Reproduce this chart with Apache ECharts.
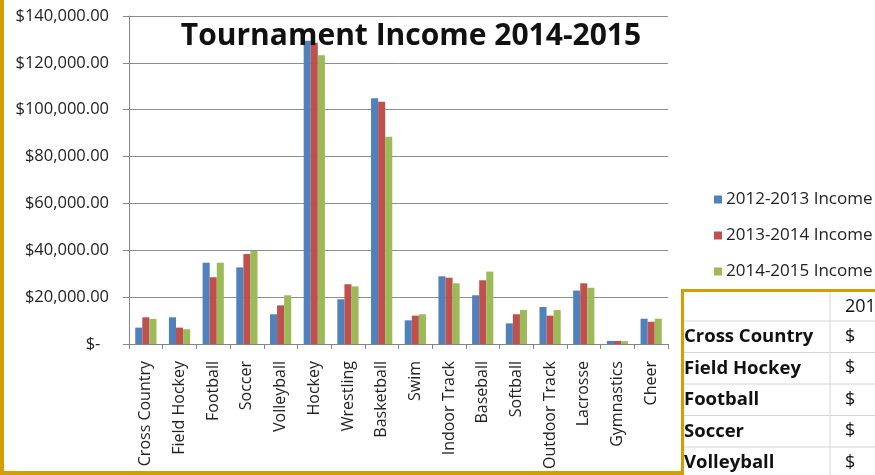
<!DOCTYPE html>
<html>
<head>
<meta charset="utf-8">
<script src="https://cdn.jsdelivr.net/npm/echarts@6/dist/echarts.min.js"></script>
<style>
html,body{margin:0;padding:0;background:#fff;}
#chart{width:875px;height:475px;}
</style>
</head>
<body>
<div id="chart"></div>
<script>
var categories = ['Cross Country','Field Hockey','Football','Soccer','Volleyball','Hockey','Wrestling','Basketball','Swim','Indoor Track','Baseball','Softball','Outdoor Track','Lacrosse','Gymnastics','Cheer'];
var income20122013 = [7000, 11400, 34700, 32700, 12700, 129400, 19100, 104900, 10100, 28900, 20800, 8800, 15800, 22800, 1300, 10800];
var income20132014 = [11400, 7000, 28500, 38400, 16500, 128600, 25500, 103400, 12100, 28300, 27200, 12700, 12100, 25900, 1300, 9500];
var income20142015 = [10700, 6300, 34700, 39700, 20800, 123200, 24600, 88500, 12700, 25900, 30900, 14500, 14500, 24000, 1200, 10800];
var seriesNames = ['2012-2013 Income','2013-2014 Income','2014-2015 Income'];
var yMin = 0, yMax = 140000, yStep = 20000;
var tableRows = ['Cross Country','Field Hockey','Football','Soccer','Volleyball'];
var tableHeader = '2012-2013 Income';
var titleText = 'Tournament Income 2014-2015';

var colors = ['#4F81BD','#C0504D','#9BBB59'];
var gold = '#D39F00';
var FONT = '"Open Sans", "DejaVu Sans", sans-serif';

function fmtMoney(v){
  if (v === 0) return '$-  ';
  var s = v.toFixed(2).split('.');
  s[0] = s[0].replace(/\B(?=(\d{3})+(?!\d))/g, ',');
  return '$' + s[0] + '.' + s[1];
}

var graphics = [];
// title
graphics.push({type:'text', x:411, y:36, z:50, style:{text:titleText, textAlign:'center', textVerticalAlign:'middle', font:'bold 30px ' + FONT, fill:'#111'}});
// gold frame lines
graphics.push({type:'rect', shape:{x:0,y:0,width:4,height:475}, style:{fill:gold}});
graphics.push({type:'rect', shape:{x:0,y:471,width:683,height:4}, style:{fill:gold}});
// table
var tX = 681, tTop = 289, rowH = 31.5, headH = 32, divX = 830;
graphics.push({type:'rect', shape:{x:tX+1.5, y:tTop+1.5, width:300, height:300}, style:{fill:'#fff', stroke:gold, lineWidth:3}});
graphics.push({type:'line', shape:{x1:divX, y1:tTop+3, x2:divX, y2:475}, style:{stroke:'#d4d4d4', lineWidth:1}});
graphics.push({type:'text', x:845, y:tTop+headH/2+2, style:{text:tableHeader, textVerticalAlign:'middle', font:'18px ' + FONT, fill:'#111'}});
for (var i=0;i<tableRows.length;i++){
  var yTop = tTop + headH + i*rowH;
  graphics.push({type:'line', shape:{x1:tX+3, y1:yTop, x2:875, y2:yTop}, style:{stroke:'#d4d4d4', lineWidth:1}});
  graphics.push({type:'text', x:684, y:yTop+rowH/2, style:{text:tableRows[i], textVerticalAlign:'middle', font:'bold 18.5px ' + FONT, fill:'#111'}});
  graphics.push({type:'text', x:845, y:yTop+rowH/2, style:{text:'$', textVerticalAlign:'middle', font:'18px ' + FONT, fill:'#111'}});
}

var allSeries = [income20122013, income20132014, income20142015].map(function(d, k){
  return {
    name: seriesNames[k], type:'bar', data:d,
    barGap:'0%', barCategoryGap:'37%',
    itemStyle:{color:colors[k]},
    animation:false
  };
});

var chart = echarts.init(document.getElementById('chart'), null, {renderer:'canvas'});
chart.setOption({
  animation:false,
  backgroundColor:'#ffffff',
  grid:{left:129, right:207, top:16, bottom:131, containLabel:false},
  legend:{
    orient:'vertical', left:709, top:186,
    itemWidth:8, itemHeight:8, itemGap:19,
    icon:'rect',
    textStyle:{fontFamily:FONT, fontSize:17, color:'#222', padding:[0,0,0,-1]},
    data:seriesNames
  },
  xAxis:{
    type:'category', data:categories, boundaryGap:true,
    axisLine:{lineStyle:{color:'#868686'}},
    axisTick:{show:true, length:5, lineStyle:{color:'#868686'}},
    axisLabel:{rotate:90, interval:0, margin:17, fontFamily:FONT, fontSize:16, color:'#222'}
  },
  yAxis:{
    type:'value', min:yMin, max:yMax, interval:yStep,
    axisLine:{show:true, lineStyle:{color:'#868686'}},
    axisTick:{show:true, length:6, lineStyle:{color:'#868686'}},
    splitLine:{lineStyle:{color:'#8c8c8c', width:1}},
    axisLabel:{formatter:fmtMoney, margin:20, fontFamily:FONT, fontSize:16.5, color:'#222'}
  },
  series: allSeries,
  graphic: graphics
});
</script>
</body>
</html>
